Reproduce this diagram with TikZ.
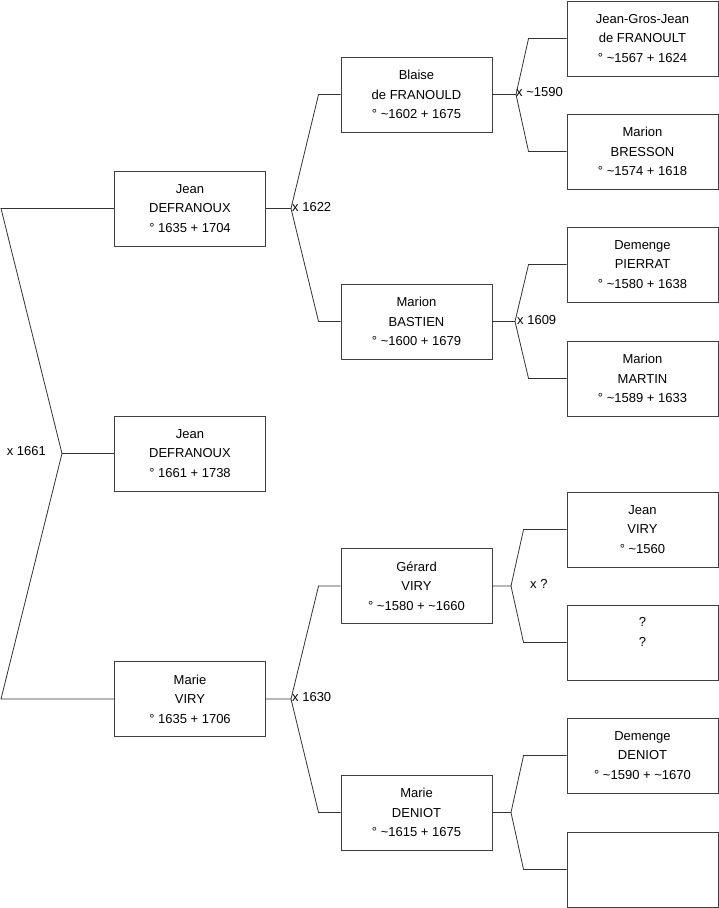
\documentclass[tikz,border=0pt]{standalone}
\usepackage{fontspec}
\setmainfont{Liberation Sans}
\begin{document}
\begin{tikzpicture}[x=1pt,y=-1pt,
  person/.style={draw=black!75, line width=0.9pt, rectangle, minimum width=151pt, minimum height=75pt, inner sep=0pt, align=center, font=\fontsize{13}{19.5}\selectfont},
  link/.style={draw=black!80, line width=0.8pt},
  lbl/.style={inner sep=1pt, font=\fontsize{13}{15}\selectfont}]
\useasboundingbox (0,0) rectangle (719,908);
% generation 1
\node[person] (jd) at (190,208.5) {Jean\\DEFRANOUX\\° 1635 + 1704};
\node[person] (jc) at (190,453.5) {Jean\\DEFRANOUX\\° 1661 + 1738};
\node[person] (mv) at (190,699) {Marie\\VIRY\\° 1635 + 1706};
% generation 2
\node[person] (bf) at (416.5,94.5) {Blaise\\de FRANOULD\\° \textasciitilde 1602 + 1675};
\node[person] (mb) at (416.5,321.5) {Marion\\BASTIEN\\° \textasciitilde 1600 + 1679};
\node[person] (gv) at (416.5,586) {Gérard\\VIRY\\° \textasciitilde 1580 + \textasciitilde 1660};
\node[person] (md) at (416.5,812.5) {Marie\\DENIOT\\° \textasciitilde 1615 + 1675};
% generation 3
\node[person] (jg) at (642.5,38.5) {Jean-Gros-Jean\\de FRANOULT\\° \textasciitilde 1567 + 1624};
\node[person] (mbr) at (642.5,151.5) {Marion\\BRESSON\\° \textasciitilde 1574 + 1618};
\node[person] (dp) at (642.5,264.5) {Demenge\\PIERRAT\\° \textasciitilde 1580 + 1638};
\node[person] (mm) at (642.5,378.5) {Marion\\MARTIN\\° \textasciitilde 1589 + 1633};
\node[person] (jv) at (642.5,529.5) {Jean\\VIRY\\° \textasciitilde 1560};
\node[person] (qq) at (642.5,642.5) {};
\node[font=\fontsize{13}{19.5}\selectfont, align=center, inner sep=0pt, anchor=north] (qt) at ([yshift=-13pt]qq.north) {?\\?};
\node[person] (dd) at (642.5,755.5) {Demenge\\DENIOT\\° \textasciitilde 1590 + \textasciitilde 1670};
\node[person] (ee) at (642.5,869.5) {};
% root fork
\coordinate (v0) at (62,453.5);
\coordinate (rt) at (1,208.5);
\coordinate (rb) at (1,699);
\draw[link] (jc.west) -- (v0) -- (rt) -- (jd.west);
\draw[link] (v0) -- (rb) -- (mv.west);
\node[lbl, anchor=east] (l0) at (47,451.5) {x 1661};
% forks of generation 1
\coordinate (v1) at (291,208.5);
\draw[link] (jd.east) -- (v1) -- ([xshift=-22pt]bf.west) -- (bf.west);
\draw[link] (v1) -- ([xshift=-22pt]mb.west) -- (mb.west);
\node[lbl, anchor=west] (l1) at (291,207) {x 1622};
\coordinate (v2) at (291,699);
\draw[link] (mv.east) -- (v2) -- ([xshift=-22pt]gv.west) -- (gv.west);
\draw[link] (v2) -- ([xshift=-22pt]md.west) -- (md.west);
\node[lbl, anchor=west] (l2) at (291,697.5) {x 1630};
% forks of generation 2
\coordinate (v3) at (516,94.5);
\draw[link] (bf.east) -- (v3) -- ([xshift=-38pt]jg.west) -- (jg.west);
\draw[link] (v3) -- ([xshift=-38pt]mbr.west) -- (mbr.west);
\node[lbl, anchor=west] (l3) at (515,92.5) {x \textasciitilde 1590};
\coordinate (v4) at (515,321.5);
\draw[link] (mb.east) -- (v4) -- ([xshift=-38pt]dp.west) -- (dp.west);
\draw[link] (v4) -- ([xshift=-38pt]mm.west) -- (mm.west);
\node[lbl, anchor=west] (l4) at (516,320) {x 1609};
\coordinate (v5) at (511,586);
\draw[link] (gv.east) -- (v5) -- ([xshift=-43pt]jv.west) -- (jv.west);
\draw[link] (v5) -- ([xshift=-43pt]qq.west) -- (qq.west);
\node[lbl, anchor=west] (l5) at (529,584) {x ?};
\coordinate (v6) at (511,812.5);
\draw[link] (md.east) -- (v6) -- ([xshift=-43pt]dd.west) -- (dd.west);
\draw[link] (v6) -- ([xshift=-43pt]ee.west) -- (ee.west);
\end{tikzpicture}
\end{document}
